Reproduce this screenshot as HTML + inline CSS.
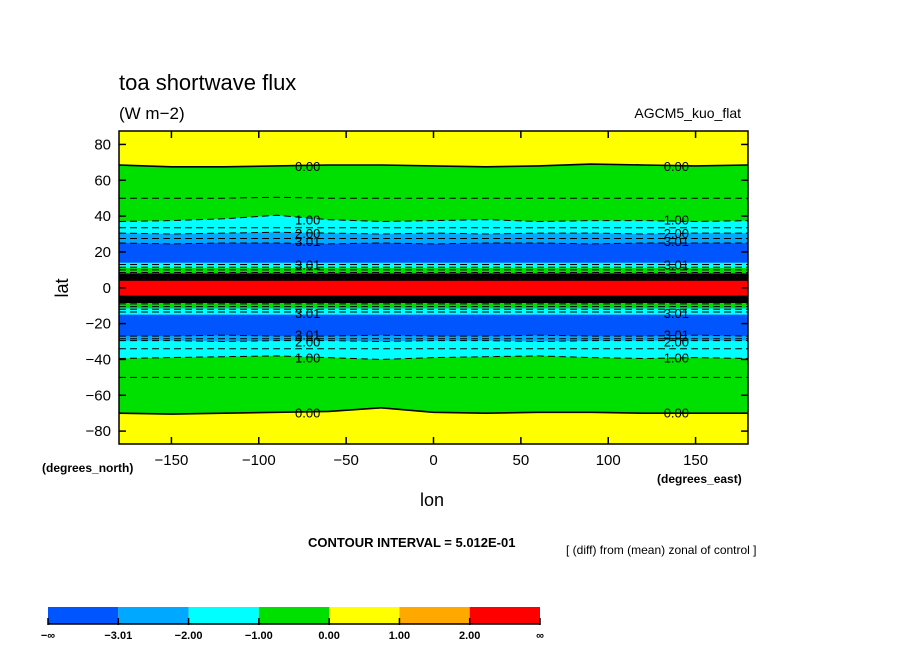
<!DOCTYPE html>
<html><head><meta charset="utf-8"><style>
body{margin:0;background:#fff;}
svg{display:block;font-family:"Liberation Sans",sans-serif;}
</style></head><body>
<svg id="chart" width="904" height="654" viewBox="0 0 904 654">
<g id="plot"></g>
<g id="axes"></g>
<text x="119" y="90" font-size="22">toa shortwave flux</text>
<text x="119" y="119" font-size="17">(W m−2)</text>
<text x="741" y="118" font-size="14" text-anchor="end">AGCM5_kuo_flat</text>
<text transform="translate(68,288) rotate(-90)" font-size="18" text-anchor="middle">lat</text>
<text x="432" y="506" font-size="18" text-anchor="middle">lon</text>
<text x="42" y="472" font-size="12" font-weight="bold">(degrees_north)</text>
<text x="657" y="483" font-size="12" font-weight="bold">(degrees_east)</text>
<text x="308" y="547" font-size="13" font-weight="bold">CONTOUR INTERVAL = 5.012E-01</text>
<text x="566" y="554" font-size="12">[ (diff) from (mean) zonal of control ]</text>
<g id="cbar"></g>
</svg>
<script>
const lonSamples=[-180,-150,-120,-90,-60,-30,0,30,60,90,120,150,180];
const b0N=[68.5,67.5,67.5,68,68.5,68.5,68,67.5,68,69,68.5,68,68.5];
const bm1N=[37,37.5,38.5,40.5,38,37,37.5,38,37,37.5,37.5,37,37.5];
const bm2N=[30.5,30,30.5,31,30.5,30,30.5,30,30.5,30.5,30,30.5,30.5];
const bm3N=[25,24.5,25,25,24.5,25,24.5,25,25,24.5,25,25,25];
const bm3S=[-27,-27,-26.5,-27,-27,-26.5,-27,-27,-26.5,-27,-27,-26.5,-27];
const bm2S=[-29.5,-29.5,-30,-29.5,-29.5,-30,-29.5,-29.5,-30,-29.5,-29.5,-29.5,-29.5];
const bm1S=[-39.5,-39,-38.5,-38,-39,-40,-39,-38.5,-38,-39,-39.5,-39,-39.5];
const b0S=[-70,-70.5,-70,-69.5,-69,-67,-69.5,-70,-69.5,-69.5,-70,-70,-70];
const dash05N=[50,50,50,50.5,50,50,50,50,50,50,50,50,50];
const dash05S=[-50,-50,-50,-50,-50,-50,-50,-50,-50,-50,-50,-50,-50];
const tropLats=[14,11,8,6,4.2,-4.7,-6.5,-8.5,-11.5,-15];
const tropColors=["#00a8ff","#00ffff","#00e000","#000","#ffa800","#ff0000","#ffa800","#000","#00e000","#00ffff"];
const cbColors=["#0055ff","#00a8ff","#00ffff","#00e000","#ffff00","#ffa800","#ff0000"];
const cbLabels=["−∞","−3.01","−2.00","−1.00","0.00","1.00","2.00","∞"];
const xTicks=[-150,-100,-50,0,50,100,150];
const yTicks=[80,60,40,20,0,-20,-40,-60,-80];
const NS="http://www.w3.org/2000/svg";
const X0=119,X1=748,Y0=131,Y1=444,LAT0=87.5,LAT1=-87.2;
const xs=l=>X0+(l+180)*(X1-X0)/360;
const ys=l=>Y0+(LAT0-l)*(Y1-Y0)/(LAT0-LAT1);
function mk(t,a,p){const e=document.createElementNS(NS,t);for(const k in a)e.setAttribute(k,a[k]);p.appendChild(e);return e;}
const plot=document.getElementById('plot'),axes=document.getElementById('axes'),cb=document.getElementById('cbar');
function line(arr){return lonSamples.map((l,i)=>xs(l).toFixed(1)+','+ys(arr[i]).toFixed(1));}
function band(top,bot,color,name){
  const pts=line(top).concat(line(bot).reverse()).join(' ');
  const p=mk('polygon',{points:pts,fill:color},plot);
  
  
}
const bg=mk('rect',{x:X0,y:Y0,width:X1-X0,height:Y1-Y0,fill:'#ffff00'},plot);


band(b0N,b0S,'#00e000','band-green');
band(bm1N,bm1S,'#00ffff','band-cyan');
band(bm2N,bm2S,'#00a8ff','band-lightblue');
band(bm3N,bm3S,'#0055ff','band-blue');
for(let i=0;i<tropLats.length-1;i++){
  const r=mk('rect',{x:X0,y:ys(tropLats[i]),width:X1-X0,height:ys(tropLats[i+1])-ys(tropLats[i]),fill:tropColors[i+1]},plot);
  
  
}
function cline(arr,dash,name){
  const p=mk('polyline',{points:line(arr).join(' '),fill:'none',stroke:'#000','stroke-width':dash?1:1.6},plot);
  if(dash)p.setAttribute('stroke-dasharray','7,4');
  
  
}
cline(b0N,false,'contour-0-north');cline(b0S,false,'contour-0-south');
cline(dash05N,true,'contour-m05-north');cline(dash05S,true,'contour-m05-south');
[bm1N,bm2N,bm3N,bm3S,bm2S,bm1S].forEach(a=>cline(a,true,'contour-negative'));
[33.5,27.5,-28.5,-34].forEach(v=>cline(lonSamples.map(()=>v),true,'contour-half-step'));
[13,11.5,10,8.5,7,-7.5,-9,-10.5,-12,-13.5].forEach(v=>cline(lonSamples.map(()=>v),true,'contour-tropical'));
[5,-5.5].forEach(v=>{const r=mk('rect',{x:X0,y:ys(v)-2,width:X1-X0,height:4,fill:'#000'},plot);});
const labs=[[68,"0.00"],[38,"1.00"],[30.5,"2.00"],[26,"3.01"],[13,"3.01"],[-14,"3.01"],[-26,"3.01"],[-30,"2.00"],[-39,"1.00"],[-69.5,"0.00"]];
[-72,139].forEach(lon=>labs.forEach(([la,t])=>{
  const e=mk('text',{x:xs(lon),y:ys(la)+5,'font-size':13,'text-anchor':'middle'},plot);e.textContent=t;
  
  
}));
const fr=mk('rect',{x:X0,y:Y0,width:X1-X0,height:Y1-Y0,fill:'none',stroke:'#000','stroke-width':1.5},axes);


xTicks.forEach(t=>{
  mk('line',{x1:xs(t),x2:xs(t),y1:Y1,y2:Y1-7,stroke:'#000','stroke-width':1.5},axes);
  mk('line',{x1:xs(t),x2:xs(t),y1:Y0,y2:Y0+7,stroke:'#000','stroke-width':1.5},axes);
  const e=mk('text',{x:xs(t),y:Y1+21,'font-size':15,'text-anchor':'middle'},axes);e.textContent=t<0?'−'+(-t):t;
  
  
});
yTicks.forEach(t=>{
  mk('line',{x1:X0,x2:X0+7,y1:ys(t),y2:ys(t),stroke:'#000','stroke-width':1.5},axes);
  mk('line',{x1:X1,x2:X1-7,y1:ys(t),y2:ys(t),stroke:'#000','stroke-width':1.5},axes);
  const e=mk('text',{x:X0-8,y:ys(t)+5,'font-size':15,'text-anchor':'end'},axes);e.textContent=t<0?'−'+(-t):t;
  
  
});
const CX0=48,CX1=540,CW=(CX1-CX0)/cbColors.length;
cbColors.forEach((c,i)=>{
  const r=mk('rect',{x:CX0+i*CW,y:607,width:CW,height:17,fill:c},cb);
  
  
});
mk('line',{x1:CX0,x2:CX1,y1:624,y2:624,stroke:'#000','stroke-width':1.5},cb);
cbLabels.forEach((t,i)=>{
  mk('line',{x1:CX0+i*CW,x2:CX0+i*CW,y1:618,y2:625,stroke:'#000','stroke-width':1.5},cb);
  const e=mk('text',{x:CX0+i*CW,y:639,'font-size':11,'font-weight':'bold','text-anchor':'middle'},cb);e.textContent=t;
  
  
});
</script>
</body></html>
